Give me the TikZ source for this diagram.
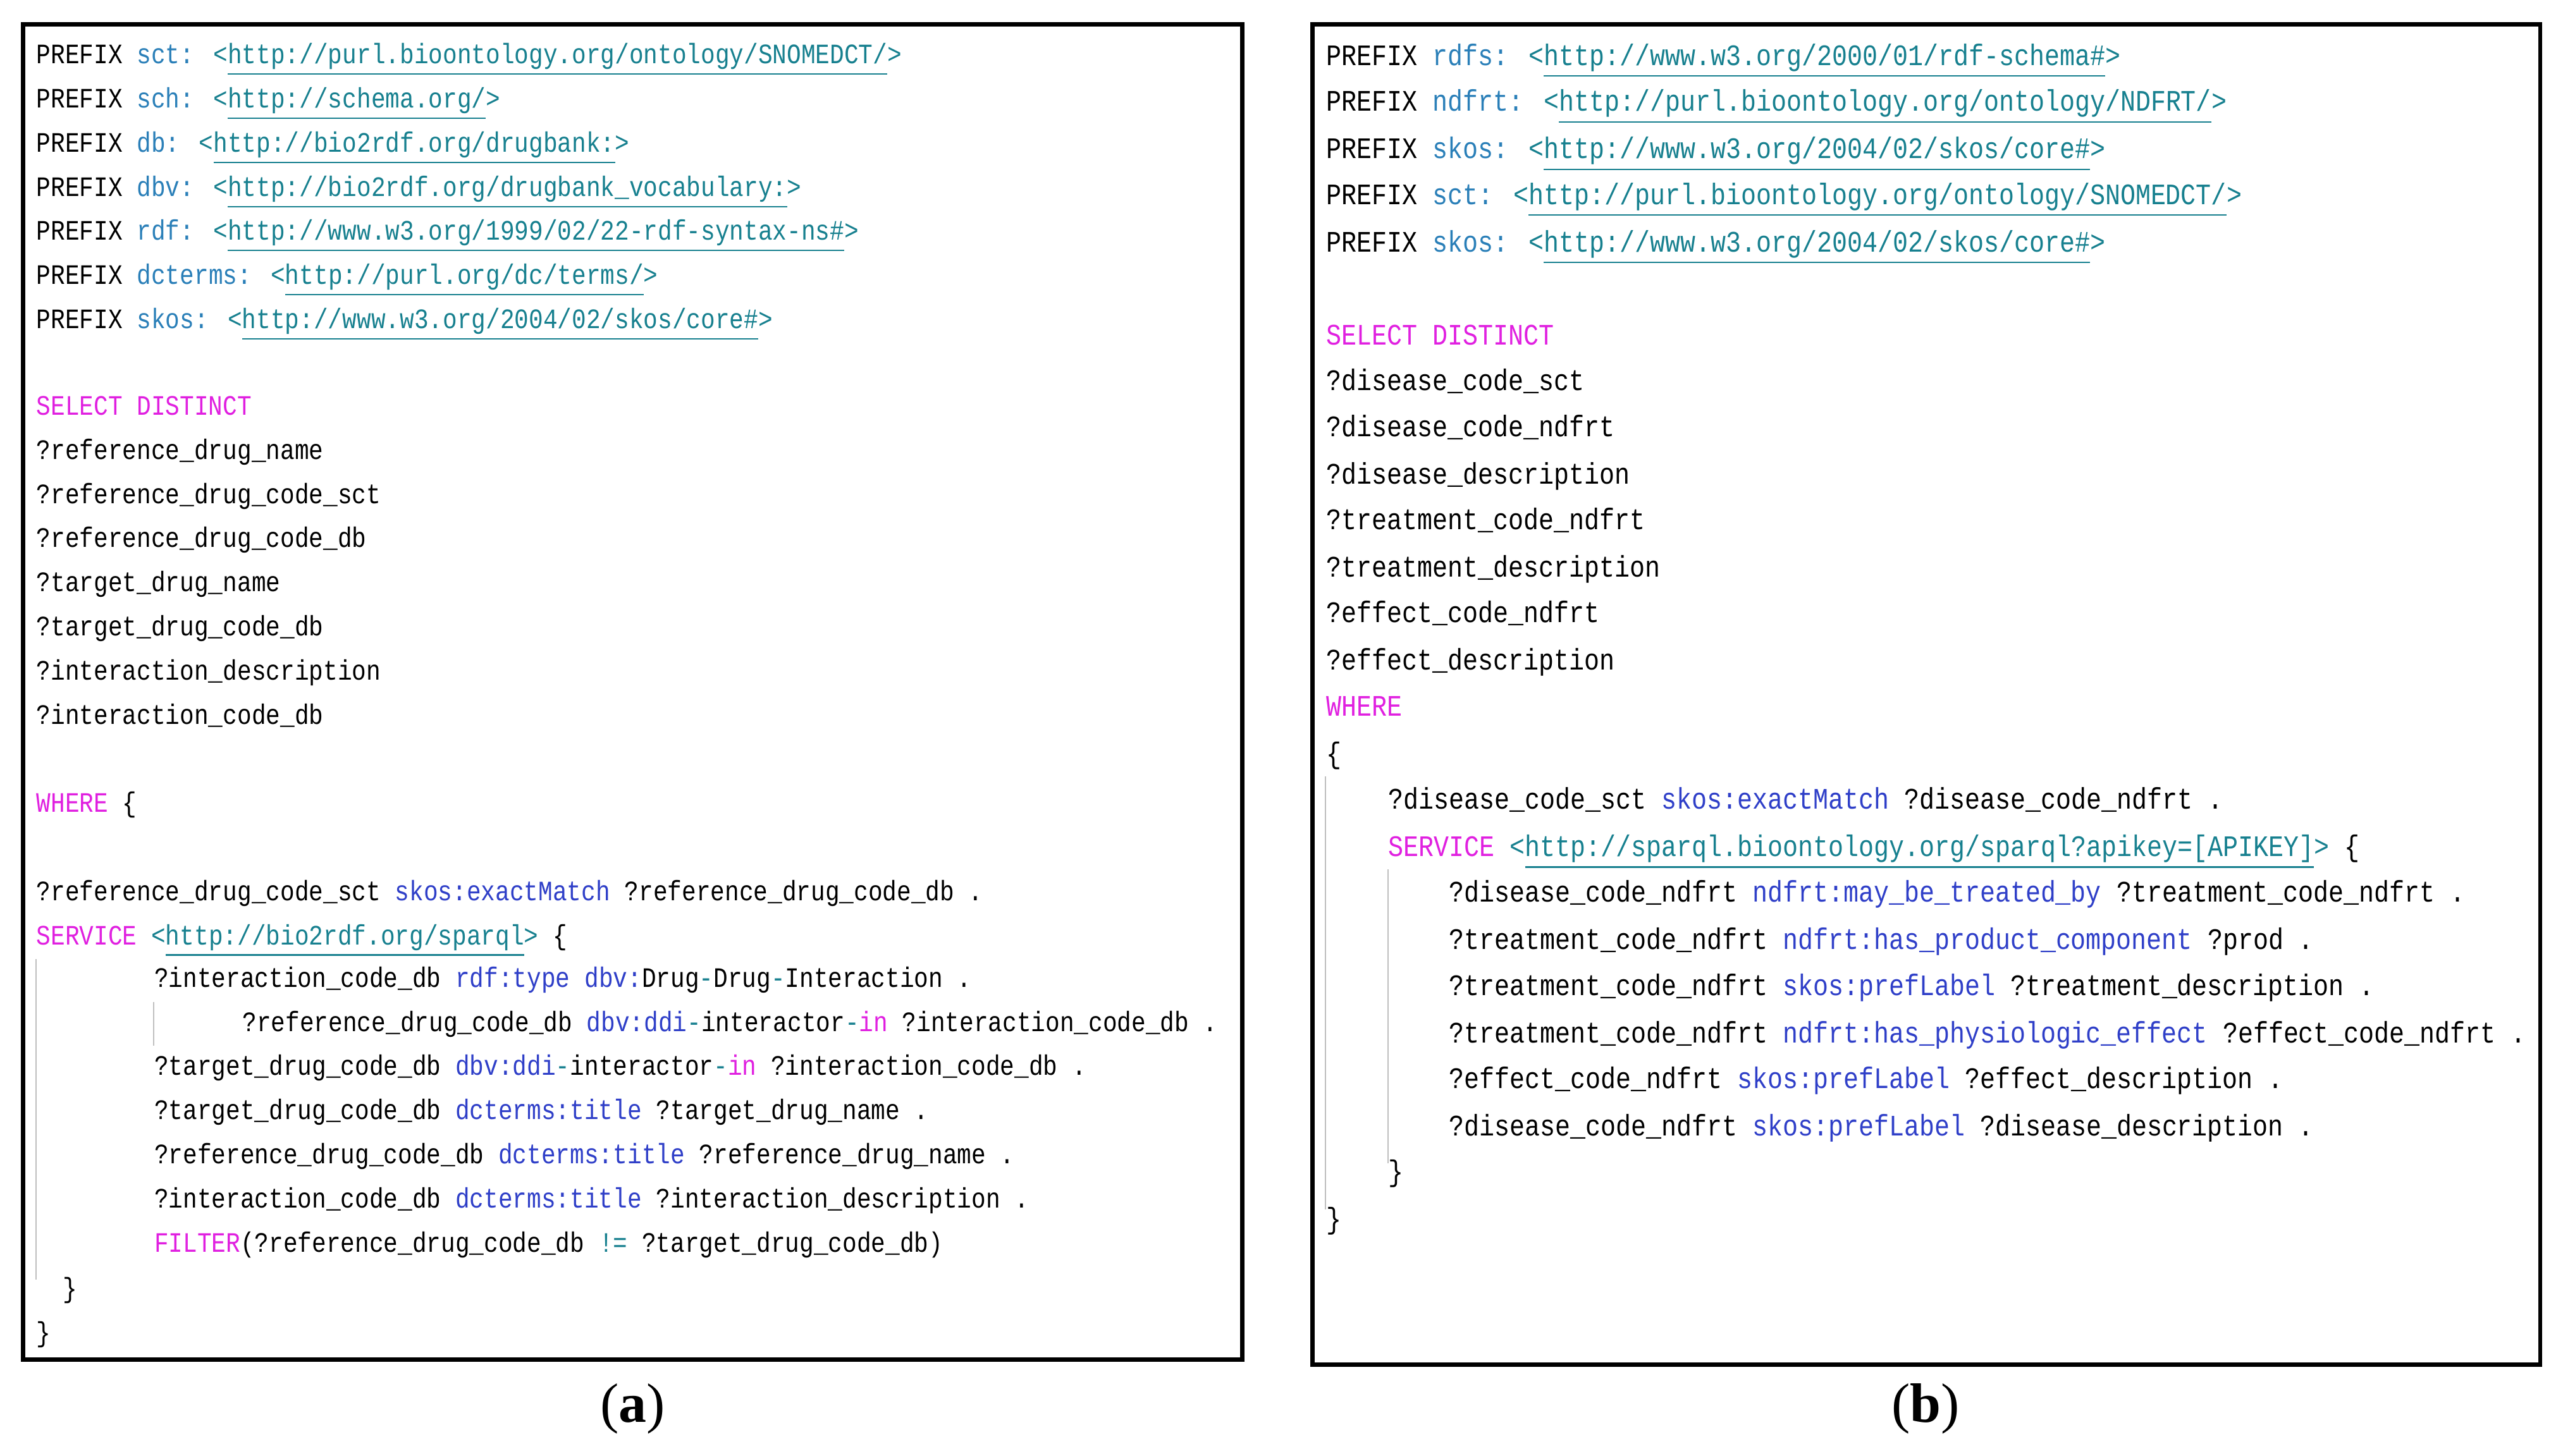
\documentclass[tikz,border=0pt]{standalone}
\usepackage{fontspec}
\setmainfont{Liberation Serif}
\newfontfamily\lmono[FakeStretch=0.85]{Liberation Mono}
\definecolor{kwc}{HTML}{E020E0}
\definecolor{prc}{HTML}{2F3FC8}
\definecolor{urc}{HTML}{17808F}
\definecolor{pfc}{HTML}{2A7FB8}
\newcommand\kw[1]{\textcolor{kwc}{#1}}
\newcommand\pr[1]{\textcolor{prc}{#1}}
\newcommand\pf[1]{\textcolor{pfc}{#1}}
\newcommand\ur[1]{\textcolor{urc}{<\underline{#1}>}}
\newcommand\hy{\textcolor{urc}{-}}
\begin{document}
\begin{tikzpicture}[x=0.5pt,y=-0.5pt,
  la/.style={anchor=base west,inner sep=0,font=\lmono\fontsize{8.6}{10}\selectfont},
  rb/.style={anchor=base west,inner sep=0,font=\lmono\fontsize{9.1}{10}\selectfont},
  guide/.style={draw=black!25,line width=0.4pt},
  frame/.style={draw=black,line width=1.3pt}]
\useasboundingbox (0,0) rectangle (1568,890.6);
\draw[frame] (14,15) rectangle (760,832);
\draw[frame] (803,15) rectangle (1554,835);
% left
\node[la] (l1) at (22,39) {PREFIX \pf{sct:} \ur{http://purl.bioontology.org/ontology/SNOMEDCT/}};
\node[la] (l2) at (22,66) {PREFIX \pf{sch:} \ur{http://schema.org/}};
\node[la] (l3) at (22,93) {PREFIX \pf{db:} \ur{http://bio2rdf.org/drugbank:}};
\node[la] (l4) at (22,120) {PREFIX \pf{dbv:} \ur{http://bio2rdf.org/drugbank\_vocabulary:}};
\node[la] (l5) at (22,147) {PREFIX \pf{rdf:} \ur{http://www.w3.org/1999/02/22-rdf-syntax-ns\#}};
\node[la] (l6) at (22,174) {PREFIX \pf{dcterms:} \ur{http://purl.org/dc/terms/}};
\node[la] (l7) at (22,201) {PREFIX \pf{skos:} \ur{http://www.w3.org/2004/02/skos/core\#}};
\node[la] (l8) at (22,254) {\kw{SELECT DISTINCT}};
\node[la] (l9) at (22,281) {?reference\_drug\_name};
\node[la] (l10) at (22,308) {?reference\_drug\_code\_sct};
\node[la] (l11) at (22,335) {?reference\_drug\_code\_db};
\node[la] (l12) at (22,362) {?target\_drug\_name};
\node[la] (l13) at (22,389) {?target\_drug\_code\_db};
\node[la] (l14) at (22,416) {?interaction\_description};
\node[la] (l15) at (22,443) {?interaction\_code\_db};
\node[la] (l16) at (22,497) {\kw{WHERE} \{};
\node[la] (l17) at (22,551) {?reference\_drug\_code\_sct \pr{skos:exactMatch} ?reference\_drug\_code\_db .};
\node[la] (l18) at (22,578) {\kw{SERVICE} \ur{http://bio2rdf.org/sparql} \{};
\node[la] (l19) at (94,604) {?interaction\_code\_db \pr{rdf:type} \pr{dbv:}Drug\hy Drug\hy Interaction .};
\node[la] (l20) at (148,631) {?reference\_drug\_code\_db \pr{dbv:ddi}\hy interactor\hy\kw{in} ?interaction\_code\_db .};
\node[la] (l21) at (94,658) {?target\_drug\_code\_db \pr{dbv:ddi}\hy interactor\hy\kw{in} ?interaction\_code\_db .};
\node[la] (l22) at (94,685) {?target\_drug\_code\_db \pr{dcterms:title} ?target\_drug\_name .};
\node[la] (l23) at (94,712) {?reference\_drug\_code\_db \pr{dcterms:title} ?reference\_drug\_name .};
\node[la] (l24) at (94,739) {?interaction\_code\_db \pr{dcterms:title} ?interaction\_description .};
\node[la] (l25) at (94,766) {\kw{FILTER}(?reference\_drug\_code\_db \textcolor{urc}{!=} ?target\_drug\_code\_db)};
\node[la] (l26) at (38,794) {\}};
\node[la] (l27) at (22,821) {\}};
\draw[guide] (22,587) -- (22,783);
\draw[guide] (94,613) -- (94,640);
% right
\node[rb] (r1) at (811,40) {PREFIX \pf{rdfs:} \ur{http://www.w3.org/2000/01/rdf-schema\#}};
\node[rb] (r2) at (811,68) {PREFIX \pf{ndfrt:} \ur{http://purl.bioontology.org/ontology/NDFRT/}};
\node[rb] (r3) at (811,97) {PREFIX \pf{skos:} \ur{http://www.w3.org/2004/02/skos/core\#}};
\node[rb] (r4) at (811,125) {PREFIX \pf{sct:} \ur{http://purl.bioontology.org/ontology/SNOMEDCT/}};
\node[rb] (r5) at (811,154) {PREFIX \pf{skos:} \ur{http://www.w3.org/2004/02/skos/core\#}};
\node[rb] (r6) at (811,211) {\kw{SELECT DISTINCT}};
\node[rb] (r7) at (811,239) {?disease\_code\_sct};
\node[rb] (r8) at (811,267) {?disease\_code\_ndfrt};
\node[rb] (r9) at (811,296) {?disease\_description};
\node[rb] (r10) at (811,324) {?treatment\_code\_ndfrt};
\node[rb] (r11) at (811,353) {?treatment\_description};
\node[rb] (r12) at (811,381) {?effect\_code\_ndfrt};
\node[rb] (r13) at (811,410) {?effect\_description};
\node[rb] (r14) at (811,438) {\kw{WHERE}};
\node[rb] (r15) at (811,467) {\{};
\node[rb] (r16) at (849,495) {?disease\_code\_sct \pr{skos:exactMatch} ?disease\_code\_ndfrt .};
\node[rb] (r17) at (849,524) {\kw{SERVICE} \ur{http://sparql.bioontology.org/sparql?apikey=[APIKEY]} \{};
\node[rb] (r18) at (886,552) {?disease\_code\_ndfrt \pr{ndfrt:may\_be\_treated\_by} ?treatment\_code\_ndfrt .};
\node[rb] (r19) at (886,581) {?treatment\_code\_ndfrt \pr{ndfrt:has\_product\_component} ?prod .};
\node[rb] (r20) at (886,609) {?treatment\_code\_ndfrt \pr{skos:prefLabel} ?treatment\_description .};
\node[rb] (r21) at (886,638) {?treatment\_code\_ndfrt \pr{ndfrt:has\_physiologic\_effect} ?effect\_code\_ndfrt .};
\node[rb] (r22) at (886,666) {?effect\_code\_ndfrt \pr{skos:prefLabel} ?effect\_description .};
\node[rb] (r23) at (886,695) {?disease\_code\_ndfrt \pr{skos:prefLabel} ?disease\_description .};
\node[rb] (r24) at (849,723) {\}};
\node[rb] (r25) at (811,752) {\}};
\draw[guide] (811,475) -- (811,740);
\draw[guide] (849,532) -- (849,712);
% captions
\node[font=\fontsize{17}{20}\selectfont] (ca) at (387,862) {(\textbf{a})};
\node[font=\fontsize{17}{20}\selectfont] (cb) at (1178,862) {(\textbf{b})};
\end{tikzpicture}
\end{document}
